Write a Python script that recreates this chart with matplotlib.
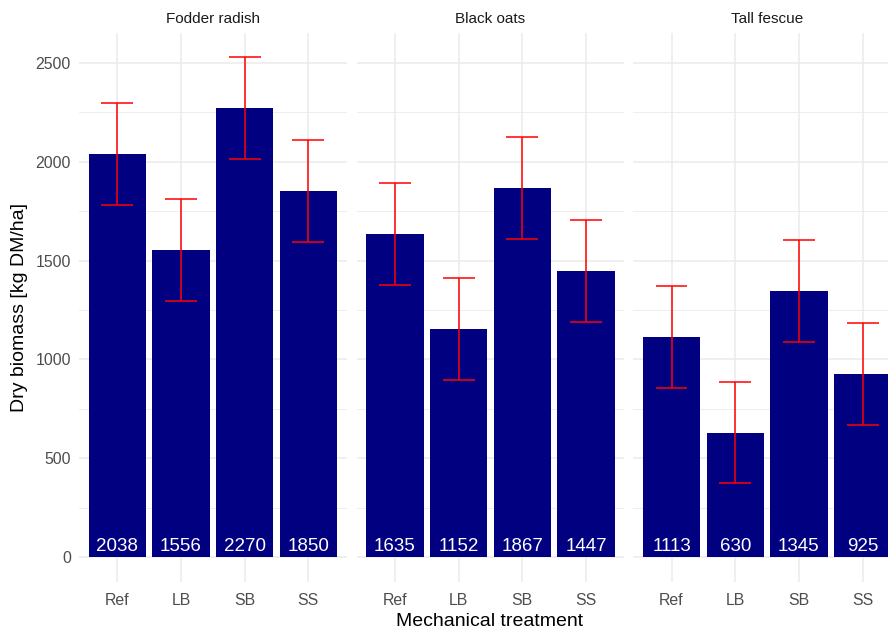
import numpy as np
import matplotlib.pyplot as plt
from matplotlib.ticker import MultipleLocator

plt.rcParams['font.family'] = ['Liberation Sans', 'DejaVu Sans']

# Data
crops = ["Fodder radish", "Black oats", "Tall fescue"]
treatments = ["Ref", "LB", "SB", "SS"]

biomass = {
    "Fodder radish": [2038, 1556, 2270, 1850],
    "Black oats": [1635, 1152, 1867, 1447],
    "Tall fescue": [1113, 630, 1345, 925],
}
# standard error shown as +/- bars
se = {
    "Fodder radish": [258, 258, 258, 258],
    "Black oats": [258, 258, 258, 258],
    "Tall fescue": [257, 257, 257, 257],
}

W, H = 888, 633
fig = plt.figure(figsize=(W / 100, H / 100), dpi=100)

# panel geometry in pixels (last panel runs past the right edge)
panel_left = [79.1, 356.7, 633.3]
panel_w = 267.5
panel_top, panel_bot = 32.5, 582.0

ymax = max(max(np.array(biomass[c]) + np.array(se[c])) for c in crops)
ylim = (-0.05 * ymax, 1.05 * ymax)

x = np.arange(len(treatments))
grid_col = "#EBEBEB"

for i, crop in enumerate(crops):
    ax = fig.add_axes([panel_left[i] / W, 1 - panel_bot / H,
                       panel_w / W, (panel_bot - panel_top) / H])
    means = np.array(biomass[crop])
    err = np.array(se[crop])

    ax.bar(x, means, width=0.9, color="#000080", zorder=2)
    ax.vlines(x, means - err, means + err, color="red", lw=1.1, zorder=3)
    ax.hlines(means - err, x - 0.25, x + 0.25, color="red", lw=1.1, zorder=3)
    ax.hlines(means + err, x - 0.25, x + 0.25, color="red", lw=1.1, zorder=3)

    for xi, m in zip(x, means):
        ax.annotate(f"{m}", (xi, 0), xytext=(0, 4.5), textcoords="offset points",
                    ha="center", va="baseline", color="white", fontsize=13.5,
                    zorder=4)

    ax.set_xlim(-0.6, 3.6)
    ax.set_ylim(*ylim)
    ax.set_xticks(x)
    ax.set_xticklabels(treatments)
    ax.yaxis.set_major_locator(MultipleLocator(500))
    ax.yaxis.set_minor_locator(MultipleLocator(250))
    ax.grid(axis="y", which="major", color=grid_col, lw=1.1, zorder=0)
    ax.grid(axis="y", which="minor", color=grid_col, lw=0.6, zorder=0)
    ax.grid(axis="x", which="major", color=grid_col, lw=1.1, zorder=0)
    ax.set_axisbelow(True)
    for s in ax.spines.values():
        s.set_visible(False)
    ax.tick_params(which="both", length=0, labelsize=11.4, colors="#4D4D4D")
    ax.tick_params(axis="x", pad=8)
    ax.tick_params(axis="y", pad=6)
    if i > 0:
        ax.tick_params(axis="y", labelleft=False)
    ax.set_title(crop, fontsize=11, color="#1A1A1A", pad=7)

fig.text((79.1 + 633.3 + panel_w) / 2 / W, 1 - 622 / H, "Mechanical treatment",
         ha="center", va="center", fontsize=14, color="black")
fig.text(20 / W, 1 - (panel_top + panel_bot) / 2 / H, "Dry biomass [kg DM/ha]",
         ha="center", va="center", rotation=90, fontsize=14, color="black")

fig.savefig("out.png", dpi=100)
